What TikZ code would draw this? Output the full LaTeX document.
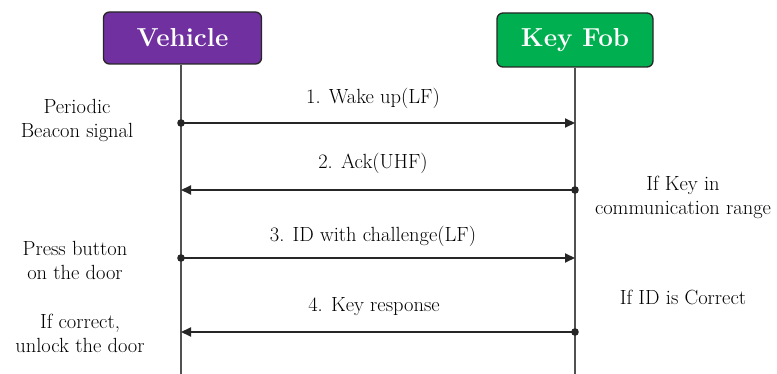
\documentclass[tikz,border=0pt]{standalone}
\usetikzlibrary{arrows.meta}
\definecolor{vpurple}{HTML}{7030A0}
\definecolor{kgreen}{HTML}{00B050}
\definecolor{lineclr}{HTML}{262626}
\tikzset{
  actor/.style={draw=black!85, line width=1.3pt, rounded corners=6pt, text=white,
    font=\fontsize{26}{30}\selectfont\bfseries, inner sep=0pt},
  lifeline/.style={draw=lineclr!80, line width=1.7pt},
  msg/.style={draw=lineclr, line width=2pt, -{Triangle[length=10pt,width=9pt]}},
  msglabel/.style={font=\fontsize{20.5}{24}\selectfont, text=black, inner sep=0pt},
  note/.style={font=\fontsize{20.5}{24}\selectfont, text=black, align=center, inner sep=0pt},
  dot/.style={fill=lineclr}
}
\begin{document}
\begin{tikzpicture}[x=1pt,y=-1pt]
\useasboundingbox (0,0) rectangle (777,374);
% actors
\node[actor, fill=vpurple, minimum width=158pt, minimum height=52pt] (veh) at (182.5,38) {Vehicle};
\node[actor, fill=kgreen, minimum width=156pt, minimum height=54pt] (kf) at (575,40) {Key Fob};
% lifeline ends
\coordinate (vend) at (181,374);
\coordinate (kend) at (575,374);
\draw[lifeline] (veh.south -| vend) -- (vend);
\draw[lifeline] (kf.south) -- (kend);
% message points
\coordinate (v1) at (181,123);
\coordinate (k1) at (575,123);
\coordinate (v2) at (181,190);
\coordinate (k2) at (575,190);
\coordinate (v3) at (181,258);
\coordinate (k3) at (575,258);
\coordinate (v4) at (181,332);
\coordinate (k4) at (575,332);
% messages
\draw[msg] (v1) -- (k1);
\fill[dot] (v1) circle (3.8);
\draw[msg] (k2) -- (v2);
\fill[dot] (k2) circle (3.8);
\draw[msg] (v3) -- (k3);
\fill[dot] (v3) circle (3.8);
\draw[msg] (k4) -- (v4);
\fill[dot] (k4) circle (3.8);
% message labels
\node[msglabel] (l1) at (373,98) {1. Wake up(LF)};
\node[msglabel] (l2) at (373,163) {2. Ack(UHF)};
\node[msglabel] (l3) at (373,236) {3. ID with challenge(LF)};
\node[msglabel] (l4) at (374,307) {4. Key response};
% side notes
\node[note] (n1) at (77,120) {Periodic\\Beacon signal};
\node[note] (n2) at (75,260) {Press button\\on the door};
\node[note] (n3) at (80,333) {If correct,\\unlock the door};
\node[note] (n4) at (683,197) {If Key in\\communication range};
\node[note] (n5) at (683,297) {If ID is Correct};
\end{tikzpicture}
\end{document}
